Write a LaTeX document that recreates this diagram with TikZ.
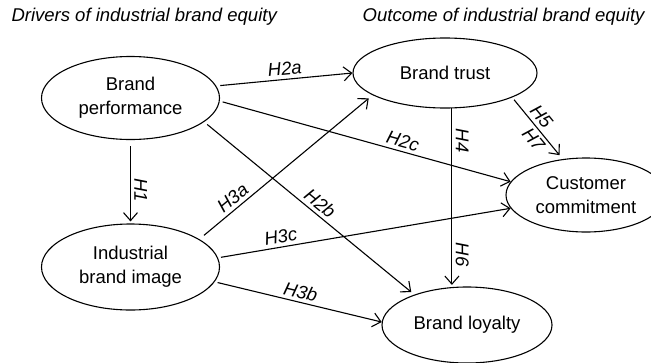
\documentclass[tikz,border=0pt]{standalone}
\usepackage{fontspec}
\setmainfont{Liberation Sans}
\usetikzlibrary{arrows.meta, shapes}

\begin{document}
\begin{tikzpicture}[x=1pt, y=-1pt, font=\fontsize{18.5}{24}\selectfont]
\useasboundingbox (0,0) rectangle (651,362);

\node[anchor=west, font=\fontsize{18.5}{24}\selectfont\itshape] (drivers) at (8,17) {Drivers of industrial brand equity};
\node[anchor=east, font=\fontsize{18.5}{24}\selectfont\itshape] (outcome) at (648,17) {Outcome of industrial brand equity};

\begin{scope}[every node/.style={ellipse, draw, line width=1.1pt, inner sep=0pt, align=center}]
  \node[minimum width=178pt, minimum height=83pt] (perf) at (130.5,98) {Brand\\performance};
  \node[minimum width=178pt, minimum height=86pt] (image) at (130.5,267) {Industrial\\brand image};
  \node[minimum width=184pt, minimum height=70pt] (trust) at (445,73) {Brand trust};
  \node[minimum width=160pt, minimum height=74pt] (commit) at (586,195) {Customer\\commitment};
  \node[minimum width=170pt, minimum height=76pt] (loyalty) at (467,325) {Brand loyalty};
\end{scope}

\begin{scope}[>={Straight Barb[length=8pt,width=14pt]},
              every node/.style={font=\fontsize{18.5}{24}\selectfont\itshape},
              every edge/.style={draw=black, line width=1.1pt}]
    \path [->] (perf.8) edge[shorten <=4pt] node[sloped, above, pos=.51] {H2a} (trust.west);
    \path [->] (perf.-2) edge[shorten <=3pt] node[sloped, above, pos=.62] {H2c} (commit.170);
    \path [->] (perf.-18) edge[shorten <=4pt, shorten >=4pt] node[sloped, above, pos=.52] {H2b} (loyalty.150);
    \path [->] (perf.south) edge[shorten <=6pt, shorten >=2pt] node[rotate=-90, anchor=south, pos=.6] {H1} (image.north);
    \path [->] (image.22) edge[shorten <=6pt, shorten >=5pt] node[sloped, above, pos=.23] {H3a} (trust.197);
    \path [->] (image.6) edge[shorten <=3pt] node[sloped, above, pos=.22] {H3c} (commit.190);
    \path [->] (image.-10) edge[shorten <=3pt] node[sloped, above, pos=.5] {H3b} (loyalty.178);
    \path [->] (trust.-79) edge[shorten >=2pt] node[rotate=-90, anchor=south, pos=.18] {H4} node[rotate=-90, anchor=south, pos=.82] {H6} (trust.-79 |- loyalty.109);
    \path [->] (trust.-20) edge[shorten <=3pt, shorten >=5pt] node[sloped, above, pos=.42] {H5} node[sloped, below, pos=.58] {H7} (commit.123);
\end{scope}

\end{tikzpicture}
\end{document}
